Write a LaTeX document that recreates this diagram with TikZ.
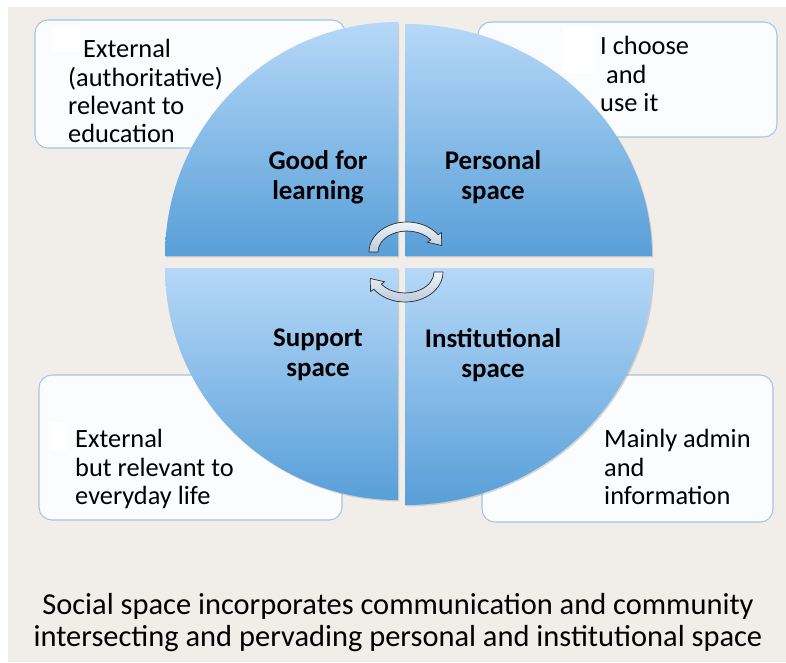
\documentclass[tikz,border=0pt]{standalone}
\usepackage{fontspec}
\setmainfont{Carlito}
\usetikzlibrary{shadows}

\definecolor{paper}{HTML}{F1EEEA}
\definecolor{wedgetop}{HTML}{B6D8F8}
\definecolor{wedgebot}{HTML}{589FD8}
\definecolor{boxline}{HTML}{A3C4E2}
\definecolor{boxfill}{HTML}{FBFCFD}
\definecolor{turntop}{HTML}{EEF3F9}
\definecolor{turnbot}{HTML}{BCCBDD}

\tikzset{
  quarter/.style={top color=wedgetop, bottom color=wedgebot,
    drop shadow={opacity=0.3, shadow xshift=1pt, shadow yshift=-1.2pt}},
  infobox/.style={draw=boxline, fill=boxfill, line width=0.9pt, rounded corners=11pt},
  boxtext/.style={anchor=north west, inner sep=0pt, align=left,
    font=\fontsize{22.5}{24.3}\selectfont},
  spacename/.style={align=center, inner sep=0pt, font=\fontsize{23}{25.5}\selectfont\bfseries},
  turnarrow/.style={top color=turntop, bottom color=turnbot, draw=black!80, line width=0.6pt},
}

\begin{document}
\begin{tikzpicture}[x=0.03cm, y=-0.03cm]
    \fill[white] (0,0) rectangle (786,662);
    \fill[paper] (8,7) rectangle (786,662);
    \useasboundingbox (0,0) rectangle (786,662);

    % the four side boxes
    \draw[infobox] (35,20) rectangle (345,148);
    \draw[infobox] (478,22) rectangle (777,137);
    \draw[infobox] (39,375) rectangle (342,520);
    \draw[infobox] (482,375) rectangle (773,522);
    \fill[white] (52,27) rectangle (80,52);
    \fill[white] (563,27) rectangle (595,73);
    \fill[white] (50,423) rectangle (66,450);

    \node[boxtext] (ext) at (68,39) {\hspace*{0.45cm}External\\(authoritative)\\relevant to\\education};
    \node[boxtext] (own) at (600,36) {I choose\\\hspace*{0.18cm}and\\use it};
    \node[boxtext] (life) at (75,429) {External\\but relevant to\\everyday life};
    \node[boxtext] (admin) at (604,429) {Mainly admin\\and\\information};

    % quarters
    \path[quarter] (398,256) -- (165,256) arc[start angle=180, end angle=270, x radius=233, y radius=234] -- cycle;
    \path[quarter] (405,256) -- (405,24) arc[start angle=270, end angle=360, x radius=247, y radius=232] -- cycle;
    \path[quarter] (398,268) -- (398,500) arc[start angle=90, end angle=180, x radius=233, y radius=232] -- cycle;
    \path[quarter] (405,268) -- (653,268) arc[start angle=0, end angle=90, x radius=248, y radius=237] -- cycle;

    \node[spacename] (learn) at (318,177) {Good for\\learning};
    \node[spacename] (pers) at (493,177) {Personal\\space};
    \node[spacename] (supp) at (318,355) {Support\\space};
    \node[spacename] (inst) at (493,355) {Institutional\\space};

    % turning arrows in the middle
    \begin{scope}[shift={(407,252)}]
      \filldraw[turnarrow] (180:38 and 30) arc[start angle=180, end angle=325, x radius=38, y radius=30]
        -- (325:42 and 34) -- (34.8,-6.5) -- (325:25 and 17) -- (325:29 and 21)
        arc[start angle=325, end angle=180, x radius=29, y radius=21] -- cycle;
    \end{scope}
    \begin{scope}[shift={(405,272)}]
      \filldraw[turnarrow] (0:38 and 30) arc[start angle=0, end angle=145, x radius=38, y radius=30]
        -- (145:42 and 34) -- (-34.8,6.5) -- (145:25 and 17) -- (145:29 and 21)
        arc[start angle=145, end angle=0, x radius=29, y radius=21] -- cycle;
    \end{scope}

    \node[align=center, font=\fontsize{26}{27.3}\selectfont] (social) at (398,623)
      {Social space incorporates communication and community\\intersecting and pervading personal and institutional space};
\end{tikzpicture}
\end{document}
